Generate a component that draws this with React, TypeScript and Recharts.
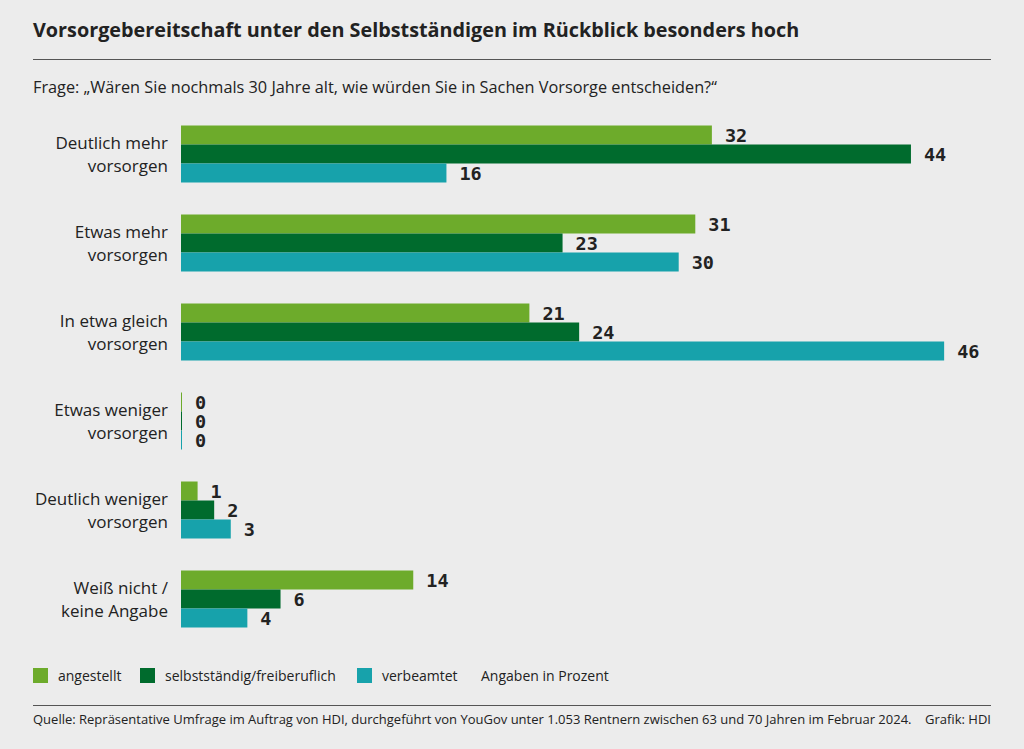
import React from 'react';
import { BarChart, Bar, XAxis, YAxis, LabelList } from 'recharts';

const categories = [
  'Deutlich mehr|vorsorgen',
  'Etwas mehr|vorsorgen',
  'In etwa gleich|vorsorgen',
  'Etwas weniger|vorsorgen',
  'Deutlich weniger|vorsorgen',
  'Weiß nicht /|keine Angabe',
];
const angestellt = [32, 31, 21, 0, 1, 14];
const selbststaendig = [44, 23, 24, 0, 2, 6];
const verbeamtet = [16, 30, 46, 0, 3, 4];

const seriesNames = ['angestellt', 'selbstständig/freiberuflich', 'verbeamtet'];
const colors = ['#6dab2b', '#006b2d', '#17a2ab'];

const data = categories.map((c, i) => ({
  cat: c,
  a: angestellt[i],
  s: selbststaendig[i],
  v: verbeamtet[i],
}));

const font = '"Open Sans", "Noto Sans", sans-serif';
const textColor = '#222';

const CatTick = (props: any) => {
  const { x, y, payload } = props;
  const lines = String(payload.value).split('|');
  return (
    <text x={x} y={y} textAnchor="end" fontFamily={font} fontSize={17} fill={textColor}>
      {lines.map((l, i) => (
        <tspan key={i} x={x} dy={i === 0 ? -5 : 23}>{l}</tspan>
      ))}
    </text>
  );
};

const labelStyle = {
  fontFamily: '"DejaVu Sans Mono", monospace',
  fontWeight: 700,
  fontSize: 18.5,
  fill: textColor,
};

const App: React.FC = () => {
  const keys = ['a', 's', 'v'];
  return (
    <div style={{ position: 'absolute', left: 0, top: 0, width: 1024, height: 749, background: '#ececec', fontFamily: font, color: textColor }}>
      <div style={{ position: 'absolute', left: 33, top: 16, fontSize: 19.8, fontWeight: 700 }}>
        Vorsorgebereitschaft unter den Selbstständigen im Rückblick besonders hoch
      </div>
      <div style={{ position: 'absolute', left: 33, top: 59, width: 958, height: 0, borderTop: '1.5px solid #555' }} />
      <div style={{ position: 'absolute', left: 33, top: 76, fontSize: 16.3 }}>
        Frage: „Wären Sie nochmals 30 Jahre alt, wie würden Sie in Sachen Vorsorge entscheiden?“
      </div>

      <div style={{ position: 'absolute', left: 0, top: 0 }}>
        <BarChart
          width={1024}
          height={749}
          data={data}
          layout="vertical"
          margin={{ top: 109.5, right: 13.5, bottom: 105.5, left: 0 }}
          barGap={0}
          barSize={19}
        >
          <XAxis type="number" domain={[0, 50]} hide />
          <YAxis
            type="category"
            dataKey="cat"
            width={181}
            axisLine={false}
            tickLine={false}
            tick={<CatTick />}
            tickMargin={7}
            interval={0}
          />
          {keys.map((k, i) => (
            <Bar key={k} dataKey={k} name={seriesNames[i]} fill={colors[i]} minPointSize={1} isAnimationActive={false}>
              <LabelList dataKey={k} position="right" offset={13} style={labelStyle} />
            </Bar>
          ))}
        </BarChart>
      </div>

      {seriesNames.map((n, i) => {
        const sx = [33, 140, 357][i];
        return (
          <React.Fragment key={n}>
            <div style={{ position: 'absolute', left: sx, top: 668, width: 15, height: 15, background: colors[i] }} />
            <div style={{ position: 'absolute', left: sx + 25, top: 666, fontSize: 14 }}>{n}</div>
          </React.Fragment>
        );
      })}
      <div style={{ position: 'absolute', left: 481, top: 666, fontSize: 14 }}>Angaben in Prozent</div>

      <div style={{ position: 'absolute', left: 33, top: 705, width: 958, height: 0, borderTop: '1.5px solid #555' }} />
      <div style={{ position: 'absolute', left: 33, top: 710, fontSize: 13 }}>
        Quelle: Repräsentative Umfrage im Auftrag von HDI, durchgeführt von YouGov unter 1.053 Rentnern zwischen 63 und 70 Jahren im Februar 2024.
      </div>
      <div style={{ position: 'absolute', right: 33, top: 710, fontSize: 13 }}>Grafik: HDI</div>
    </div>
  );
};

export default App;
